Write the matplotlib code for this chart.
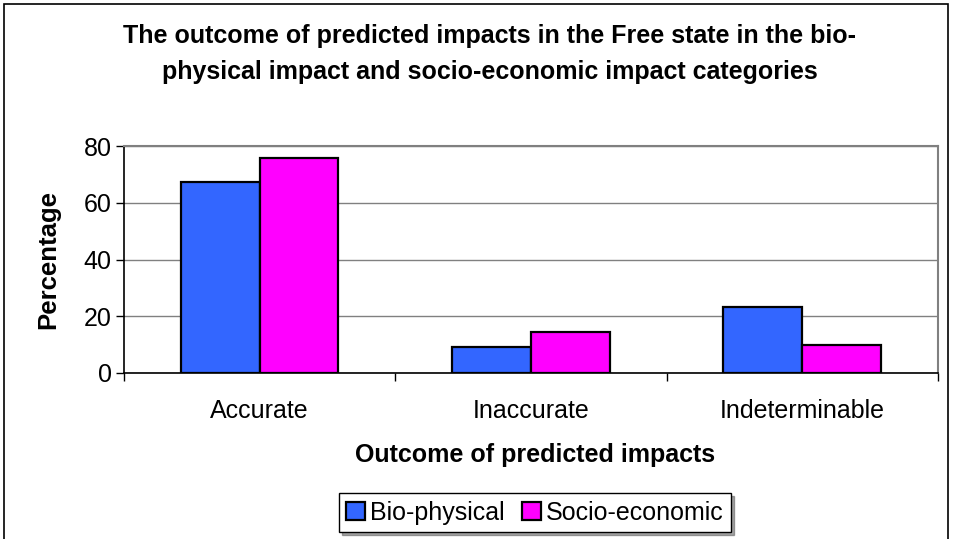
import matplotlib
matplotlib.use('Agg')
import matplotlib.pyplot as plt
import numpy as np
from matplotlib.patches import Rectangle

categories = ['Accurate', 'Inaccurate', 'Indeterminable']
bio_physical = [67.2, 9.3, 23.2]
socio_economic = [75.7, 14.3, 9.8]
series_names = ['Bio-physical', 'Socio-economic']
yticks = [0, 20, 40, 60, 80]

plt.rcParams['font.family'] = ['Liberation Sans', 'DejaVu Sans']

fig = plt.figure(figsize=(9.54, 5.39), dpi=100)
ax = fig.add_axes([0.130, 0.308, 0.853, 0.421])

x = np.arange(len(categories))
w = 0.29
ax.bar(x - w/2, bio_physical, w, label=series_names[0], color='#3366FF',
       edgecolor='black', linewidth=1.6, zorder=3)
ax.bar(x + w/2, socio_economic, w, label=series_names[1], color='#FF00FF',
       edgecolor='black', linewidth=1.6, zorder=3)

ax.set_xlim(-0.5, len(categories) - 0.5)
ax.set_ylim(0, 80)
ax.set_yticks(yticks)
ax.set_yticklabels([str(v) for v in yticks], fontsize=18)
ax.yaxis.grid(True, color='#808080', linewidth=1.0, zorder=0)

# category labels in the middle, tick marks on the boundaries
ax.set_xticks(x)
ax.set_xticklabels(categories, fontsize=18)
ax.tick_params(axis='x', which='major', length=0, pad=19)
ax.set_xticks(np.arange(len(categories) + 1) - 0.5, minor=True)
ax.tick_params(axis='x', which='minor', length=6, width=1, direction='out')
ax.tick_params(axis='y', length=6, width=1, direction='out', pad=3)

for side in ['top', 'right']:
    ax.spines[side].set_color('#808080')
    ax.spines[side].set_linewidth(1.5)
for side in ['left', 'bottom']:
    ax.spines[side].set_color('black')
    ax.spines[side].set_linewidth(1.2)

ax.set_ylabel('Percentage', fontsize=18.5, fontweight='bold')
ax.yaxis.set_label_coords(-0.078, 0.5)
ax.set_xlabel('Outcome of predicted impacts', fontsize=18, fontweight='bold')
ax.xaxis.set_label_coords(0.505, -0.31)

fig.text(0.513, 0.90, 'The outcome of predicted impacts in the Free state in the bio-\n'
         'physical impact and socio-economic impact categories',
         ha='center', va='center', fontsize=18, fontweight='bold', linespacing=1.6)

leg = ax.legend(loc='center', bbox_to_anchor=(0.505, -0.617), ncol=2, fontsize=18,
                frameon=True, fancybox=False, shadow=True, handlelength=0.75,
                handleheight=0.75, handletextpad=0.2, columnspacing=0.7,
                borderpad=0.3, borderaxespad=0)
leg.get_frame().set_edgecolor('black')
leg.get_frame().set_linewidth(1.0)

# chart frame around the whole figure
fig.patches.append(Rectangle((0.004, -0.05), 0.99, 1.043, transform=fig.transFigure,
                             fill=False, edgecolor='black', linewidth=1.2))

fig.savefig('out.png', dpi=100)
